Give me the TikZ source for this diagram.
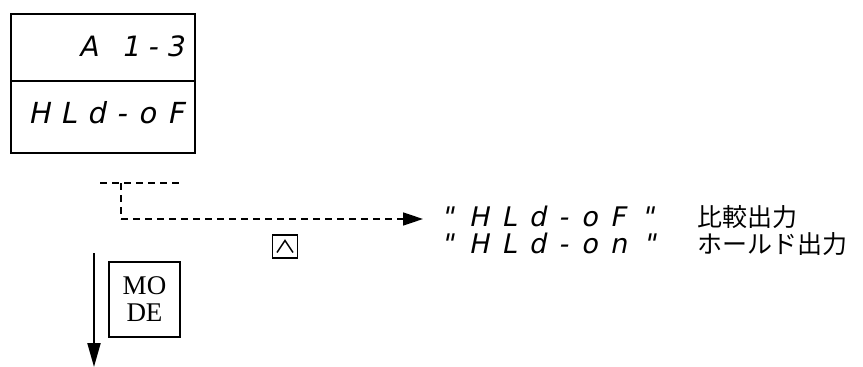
\documentclass[tikz,border=0pt]{standalone}
\usepackage{fontspec}
\newfontfamily\segfonta[FakeSlant=0.2,LetterSpace=30]{DejaVu Sans}
\newfontfamily\segfont[FakeSlant=0.2,LetterSpace=37]{DejaVu Sans}
\newfontfamily\segfontb[FakeSlant=0.2,LetterSpace=46]{DejaVu Sans}
\newfontfamily\jpfont{Noto Sans CJK JP}
\newfontfamily\modefont{Liberation Serif}
\usetikzlibrary{arrows.meta}
\begin{document}
\begin{tikzpicture}[x=1pt,y=-1pt,
  dispbox/.style={draw,line width=2pt},
  dashline/.style={line width=1.6pt,dash pattern=on 7pt off 5pt},
  segt/.style={font=\segfonta\fontsize{28}{28}\selectfont,anchor=base east,inner sep=0pt},
  segb/.style={font=\segfont\fontsize{29}{29}\selectfont,anchor=base east,inner sep=0pt},
  segr/.style={font=\segfontb\fontsize{27}{27}\selectfont,anchor=base west,inner sep=0pt},
  jp/.style={font=\jpfont\fontsize{25}{25}\selectfont,anchor=base west,inner sep=0pt}]
\useasboundingbox (0,0) rectangle (863,367);
% display box
\node[dispbox,minimum width=184pt,minimum height=139pt,anchor=north west,inner sep=0pt] (disp) at (10,13) {};
\draw[line width=1.6pt] (disp.west |- 0,81) coordinate (dl) -- (disp.east |- 0,81) coordinate (dr);
\node[segt] (t1) at (184,56) {A\hspace{6pt} 1-3};
\node[segb] (t2) at (184,123) {HLd-oF};
% dashed connector
\coordinate (d0) at (100,183);
\coordinate (d1) at (182,183);
\coordinate (d2) at (121,183);
\coordinate (d3) at (121,219);
\draw[dashline] (d0) -- (d1);
\draw[dashline] (d2) -- (d3);
\node[segr] (o1) at (441,226) {"\hspace{15pt}HLd-oF\hspace{16pt}"};
\node[segr] (o2) at (441,253) {"\hspace{15pt}HLd-on\hspace{16pt}"};
\coordinate (ae) at (423,219);
\draw[dashline] (d3) -- (404,219);
\draw[-{Triangle[length=20pt,width=13pt]},line width=1.6pt] (403,219) -- (ae);
\node[jp] (j1) at (697,226) {比較出力};
\node[jp] (j2) at (697,253) {ホールド出力};
% up key
\node[draw,line width=1.5pt,minimum width=25pt,minimum height=23pt,inner sep=0pt] (up) at (285,246.5) {};
\draw[line width=1.4pt] ([xshift=-8pt,yshift=-6pt]up.center) -- ([yshift=6pt]up.center) -- ([xshift=8pt,yshift=-6pt]up.center);
% MODE key and arrow
\node[draw,line width=1.8pt,minimum width=71pt,minimum height=75pt,inner sep=0pt,align=center,
  font=\modefont\fontsize{27}{27}\selectfont] (mode) at (144.5,299.5) {MO\\DE};
\coordinate (va) at (94,253);
\coordinate (vb) at (94,367);
\draw[line width=2pt,-{Triangle[length=24pt,width=13pt]}] (va) -- (vb);
\end{tikzpicture}
\end{document}
